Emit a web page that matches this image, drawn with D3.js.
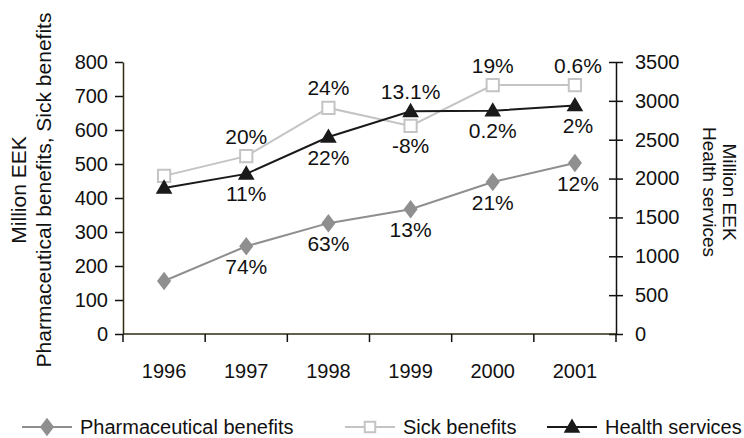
<!DOCTYPE html>
<html>
<head>
<meta charset="utf-8">
<script src="https://cdn.jsdelivr.net/npm/d3@7"></script>
<style>
  html, body { margin: 0; padding: 0; background: #fff; }
  svg { display: block; font-family: "Liberation Sans", Arial, sans-serif; }
</style>
</head>
<body>
<svg id="chart" width="744" height="438"></svg>
<script>
// ---------------- data ----------------
const years = ["1996", "1997", "1998", "1999", "2000", "2001"];
const pharmaceutical = [156, 258, 326, 367, 447, 503];      // left axis
const sick = [465, 523, 665, 612, 732, 732];                 // left axis
const health = [1880, 2060, 2535, 2865, 2872, 2940];         // right axis
const pharmaLabels = ["", "74%", "63%", "13%", "21%", "12%"];
const sickLabels = ["", "20%", "24%", "-8%", "19%", "0.6%"];
const healthLabels = ["", "11%", "22%", "13.1%", "0.2%", "2%"];
const leftTicks = [0, 100, 200, 300, 400, 500, 600, 700, 800];
const rightTicks = [0, 500, 1000, 1500, 2000, 2500, 3000, 3500];
const seriesNames = ["Pharmaceutical benefits", "Sick benefits", "Health services"];

// ---------------- layout ----------------
const svg = d3.select("#chart");
const FONT = "Liberation Sans, Arial, sans-serif";
const L = 123, R = 616, T = 62, B = 334;
const x = d3.scaleBand().domain(years).range([L, R]);
const cx = d => x(d) + x.bandwidth() / 2;
const yL = d3.scaleLinear().domain([0, 800]).range([B, T]);
const yR = d3.scaleLinear().domain([0, 3500]).range([B, T]);

const colPh = "#8f8f8f", colSick = "#c4c4c4", colHealth = "#1a1a1a";
const axisCol = "#2e2c12";

// left axis
const gL = svg.append("g").attr("transform", `translate(${L},0)`)
  .call(d3.axisLeft(yL).tickValues(leftTicks).tickFormat(d3.format("d"))
    .tickSize(8).tickPadding(7).tickSizeOuter(0));
gL.attr("font-family", FONT).attr("font-size", 20);
gL.select(".domain").attr("stroke", axisCol).attr("stroke-width", 1.5);
gL.selectAll(".tick line").attr("stroke", "#111").attr("stroke-width", 1.5);
gL.selectAll(".tick text").attr("fill", "#111");

// right axis with crossing ticks
const gR = svg.append("g").attr("transform", `translate(${R},0)`)
  .call(d3.axisRight(yR).tickValues(rightTicks).tickFormat(d3.format("d"))
    .tickSize(7).tickPadding(12).tickSizeOuter(0));
gR.attr("font-family", FONT).attr("font-size", 20);
gR.select(".domain").attr("stroke", "#111").attr("stroke-width", 1.5);
gR.selectAll(".tick line").attr("x1", -7).attr("stroke", "#111").attr("stroke-width", 1.5);
gR.selectAll(".tick text").attr("fill", "#111");

// bottom axis: labels at band centres, ticks at band boundaries
svg.append("line").attr("x1", L).attr("x2", R).attr("y1", B).attr("y2", B)
  .attr("stroke", axisCol).attr("stroke-width", 1.5);
const bounds = years.map(d => x(d)).concat([x.range()[1]]);
svg.selectAll(".xtick").data(bounds).join("line")
  .attr("x1", d => d).attr("x2", d => d).attr("y1", B).attr("y2", B + 8)
  .attr("stroke", "#111").attr("stroke-width", 1.5);
svg.selectAll(".xlab").data(years).join("text")
  .attr("x", d => cx(d)).attr("y", B + 44)
  .attr("text-anchor", "middle").attr("font-size", 20).attr("fill", "#111")
  .text(d => d);

// axis titles
const leftTitle = svg.append("g").attr("transform", "translate(0,190) rotate(-90)");
leftTitle.append("text").attr("x", 0).attr("y", 26).attr("text-anchor", "middle")
  .attr("font-size", 21).attr("fill", "#111").text("Million EEK");
leftTitle.append("text").attr("x", 0).attr("y", 51).attr("text-anchor", "middle")
  .attr("font-size", 21).attr("fill", "#111").text("Pharmaceutical benefits, Sick benefits");
const rightTitle = svg.append("g").attr("transform", "translate(744,192) rotate(90)");
rightTitle.append("text").attr("x", 0).attr("y", 21).attr("text-anchor", "middle")
  .attr("font-size", 19).attr("fill", "#111").text("Million EEK");
rightTitle.append("text").attr("x", 0).attr("y", 41).attr("text-anchor", "middle")
  .attr("font-size", 19).attr("fill", "#111").text("Health services");

// ---------------- series ----------------
const triangle = d3.symbol().type(d3.symbolTriangle).size(120);
const square = d3.symbol().type(d3.symbolSquare).size(150);
const diamondPath = d3.symbol().type(d3.symbolDiamond).size(110)();

function drawSeries(vals, yScale, color, width, markerFn) {
  const pts = years.map((d, i) => [cx(d), yScale(vals[i])]);
  svg.append("path").datum(pts)
    .attr("d", d3.line())
    .attr("fill", "none").attr("stroke", color).attr("stroke-width", width);
  const g = svg.append("g");
  pts.forEach(p => markerFn(g.append("path"), p));
  return pts;
}

const phPts = drawSeries(pharmaceutical, yL, colPh, 2,
  (s, p) => s.attr("d", diamondPath).attr("transform", `translate(${p[0]},${p[1]}) scale(1.25,0.95)`).attr("fill", colPh));
const skPts = drawSeries(sick, yL, colSick, 2,
  (s, p) => s.attr("d", square()).attr("transform", `translate(${p[0]},${p[1]})`)
    .attr("fill", "#fff").attr("stroke", colSick).attr("stroke-width", 2));
const hPts = drawSeries(health, yR, colHealth, 2,
  (s, p) => s.attr("d", triangle()).attr("transform", `translate(${p[0]},${p[1] + 1})`).attr("fill", colHealth));

// ---------------- growth labels ----------------
// placement: -1 above the point, +1 below
const phPlace = [0, 1, 1, 1, 1, 1];
const sickPlace = [0, -1, -1, 1, -1, -1];
const healthPlace = [0, 1, 1, -1, 1, 1];
function drawLabels(pts, labels, place) {
  svg.append("g").selectAll("text").data(labels).join("text")
    .attr("x", (d, i) => pts[i][0] + (i === 5 ? 3 : 0))
    .attr("y", (d, i) => pts[i][1] + place[i] * 20)
    .attr("dy", "0.36em")
    .attr("text-anchor", "middle").attr("font-size", 21).attr("fill", "#111")
    .text(d => d);
}
drawLabels(phPts, pharmaLabels, phPlace);
drawLabels(skPts, sickLabels, sickPlace);
drawLabels(hPts, healthLabels, healthPlace);

// ---------------- legend ----------------
const legY = 427;
const legend = [
  { name: seriesNames[0], x0: 22, color: colPh, marker: "diamond" },
  { name: seriesNames[1], x0: 345, color: colSick, marker: "square" },
  { name: seriesNames[2], x0: 547, color: colHealth, marker: "triangle" }
];
legend.forEach(it => {
  const g = svg.append("g").attr("transform", `translate(${it.x0},${legY})`);
  g.append("line").attr("x1", 0).attr("x2", 50).attr("y1", 0).attr("y2", 0)
    .attr("stroke", it.color).attr("stroke-width", 2);
  const m = g.append("path");
  if (it.marker === "diamond") m.attr("d", diamondPath).attr("transform", "translate(25,0) scale(1.25,0.95)").attr("fill", it.color);
  if (it.marker === "square") m.attr("d", d3.symbol().type(d3.symbolSquare).size(110)()).attr("transform", "translate(25,0)").attr("fill", "#fff").attr("stroke", it.color).attr("stroke-width", 2);
  if (it.marker === "triangle") m.attr("d", triangle()).attr("transform", "translate(25,1)").attr("fill", it.color);
  g.append("text").attr("x", 58).attr("y", 0).attr("dy", "0.36em")
    .attr("font-size", 20).attr("fill", "#111").text(it.name);
});
</script>
</body>
</html>
